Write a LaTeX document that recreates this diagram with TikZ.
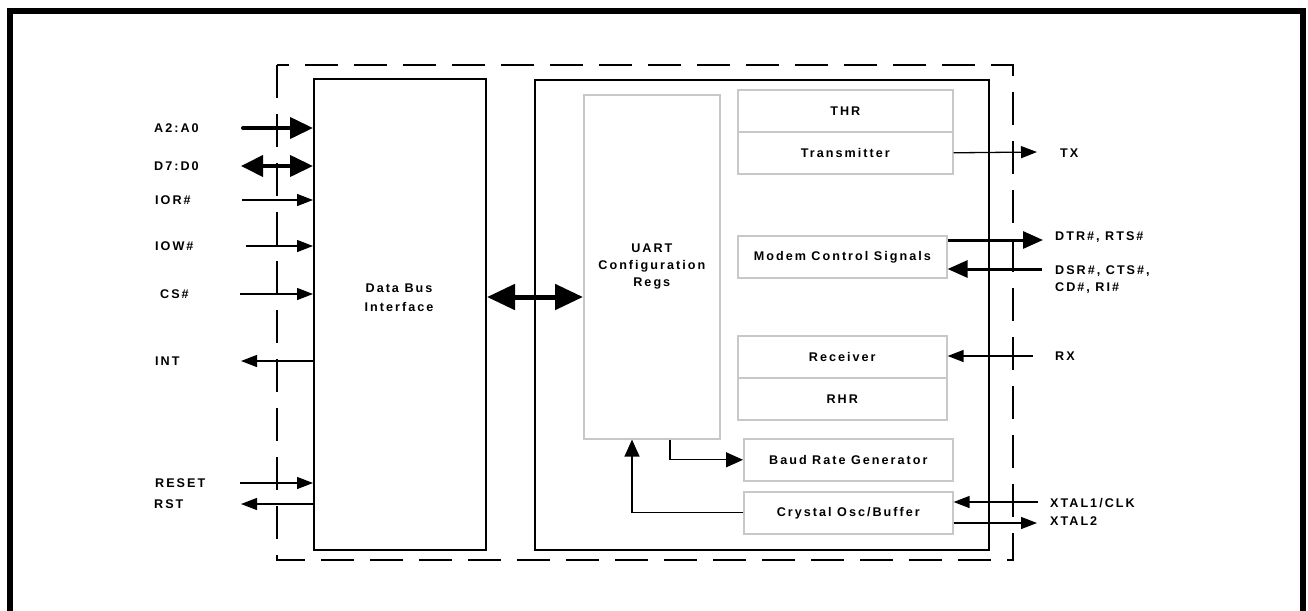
\documentclass[tikz,border=0pt]{standalone}
\usepackage{fontspec}
\setmainfont{Liberation Sans}[LetterSpace=16]
\usetikzlibrary{arrows.meta}
\definecolor{boxgray}{RGB}{200,200,200}
\begin{document}
\begin{tikzpicture}[x=1pt,y=-1pt,
  lbl/.style={font=\fontsize{12.6}{17}\selectfont\bfseries, inner sep=0pt, text height=9pt, text depth=0pt},
  mlbl/.style={font=\fontsize{12.6}{17}\selectfont\bfseries, inner sep=0pt, align=center},
  blk/.style={draw, line width=2pt, inner sep=0pt, anchor=north west},
  gblk/.style={draw=boxgray, line width=1.6pt, inner sep=0pt, anchor=north west, font=\fontsize{12.6}{17}\selectfont\bfseries, align=center},
  sig/.style={line width=1.3pt, -{Triangle[length=16pt,width=12pt]}},
  isig/.style={line width=1.3pt, -{Triangle[length=17pt,width=15pt]}},
  bus/.style={line width=4pt, line cap=round, -{Triangle[length=23pt,width=21pt]}},
  bbus/.style={line width=4pt, {Triangle[length=22pt,width=21pt]}-{Triangle[length=23pt,width=21pt]}},
  mbus/.style={line width=3pt, -{Triangle[length=20pt,width=17pt]}},
  wbus/.style={line width=5pt, {Triangle[length=28pt,width=25pt]}-{Triangle[length=28pt,width=25pt]}},
  chip/.style={line width=1.5pt, dash pattern=on 33pt off 16pt}
]
\useasboundingbox (0,0) rectangle (1308,610);
\fill[white] (0,0) rectangle (1308,610);
% outer frame (no bottom edge)
\draw[line width=6pt, miter limit=10] (10,612) -- (10,11) -- (1303,11) -- (1303,612);

% chip boundary
\draw[chip] (277,65) rectangle (1013,560);

% main blocks
\node[blk, minimum width=172pt, minimum height=471pt] (dbi) at (313,78) {};
\node[mlbl] (dbit) at (399,297.5) {Data Bus\\[2pt]Interface};
\node[blk, minimum width=454pt, minimum height=470pt] (uart) at (534,79) {};

% inner gray blocks
\node[gblk, minimum width=136pt, minimum height=344pt] (cfg) at (583,94) {UART\\Configuration\\Regs};
\node[gblk, minimum width=215pt, minimum height=42pt] (thr) at (737,89) {THR};
\node[gblk, minimum width=215pt, minimum height=42pt] (trans) at (737,131) {Transmitter};
\node[gblk, minimum width=209pt, minimum height=42pt] (modem) at (737,235) {Modem Control Signals};
\node[gblk, minimum width=209pt, minimum height=42pt] (recv) at (737,335) {Receiver};
\node[gblk, minimum width=209pt, minimum height=42pt] (rhr) at (737,377) {RHR};
\node[gblk, minimum width=209pt, minimum height=42pt] (baud) at (743,438) {Baud Rate Generator};
\node[gblk, minimum width=209pt, minimum height=42pt] (xtal) at (743,491) {Crystal Osc/Buffer};

% bus between interface and config regs
\coordinate (bb) at (0,297);
\draw[wbus] (dbi.east |- bb) -- (cfg.west |- bb);

% internal connectors
\coordinate (bx) at (670,0);
\coordinate (cx) at (632,0);
\draw[isig] (cfg.south -| bx) |- (baud.west);
\draw[isig] (xtal.west) -| (cfg.south -| cx);

% left labels
\node[lbl, anchor=west] (la2) at (154,128) {A2:A0};
\node[lbl, anchor=west] (ld7) at (154,166) {D7:D0};
\node[lbl, anchor=west] (lior) at (155,200) {IOR\#};
\node[lbl, anchor=west] (liow) at (155,246) {IOW\#};
\node[lbl, anchor=west] (lcs) at (160,294) {CS\#};
\node[lbl, anchor=west] (lint) at (155,361) {INT};
\node[lbl, anchor=west] (lreset) at (155,483) {RESET};
\node[lbl, anchor=west] (lrst) at (154,504) {RST};

% left connectors
\coordinate (a2s) at (243,128);
\coordinate (d7s) at (241,166);
\coordinate (iors) at (242,200);
\coordinate (iows) at (246,246);
\coordinate (css) at (240,294);
\coordinate (inte) at (241,361);
\coordinate (rsts) at (240,483);
\coordinate (rste) at (241,504);
\draw[bus] (a2s) -- (a2s -| dbi.west);
\draw[bbus] (d7s) -- (d7s -| dbi.west);
\draw[sig] (iors) -- (iors -| dbi.west);
\draw[sig] (iows) -- (iows -| dbi.west);
\draw[sig] (css) -- (css -| dbi.west);
\draw[sig] (inte -| dbi.west) -- (inte);
\draw[sig] (rsts) -- (rsts -| dbi.west);
\draw[sig] (rste -| dbi.west) -- (rste);

% right labels
\node[lbl, anchor=west] (ltx) at (1060,153) {TX};
\node[lbl, anchor=west] (ldtr) at (1055,236) {DTR\#, RTS\#};
\node[mlbl, anchor=north west, align=left] (ldsr) at (1055,265) {DSR\#, CTS\#,\\CD\#, RI\#};
\node[lbl, anchor=west] (lrx) at (1055,356) {RX};
\node[lbl, anchor=west] (lx1) at (1050,503) {XTAL1/CLK};
\node[lbl, anchor=west] (lx2) at (1050,521) {XTAL2};

% right connectors
\coordinate (txe) at (1037,152);
\coordinate (dtre) at (1043,240);
\coordinate (dsrs) at (1042,269);
\coordinate (rxs) at (1033,356);
\coordinate (x1s) at (1038,502);
\coordinate (x2e) at (1037,523);
\draw[sig] (trans.east) -- (txe);
\draw[mbus] (dtre -| modem.east) -- (dtre);
\draw[mbus] (dsrs) -- (dsrs -| modem.east);
\draw[sig] (rxs) -- (rxs -| recv.east);
\draw[sig] (x1s) -- (x1s -| xtal.east);
\draw[sig] (x2e -| xtal.east) -- (x2e);
\end{tikzpicture}
\end{document}
